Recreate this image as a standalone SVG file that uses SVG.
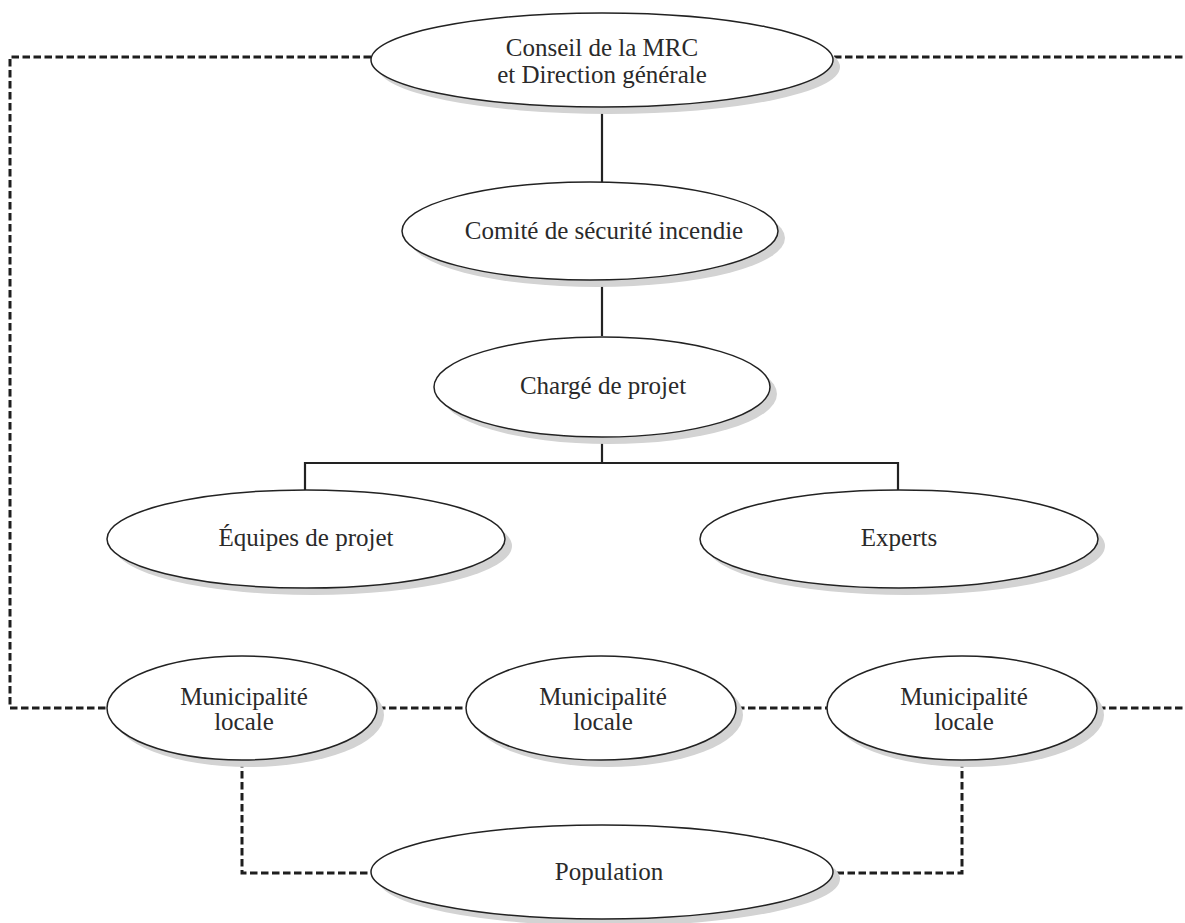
<svg xmlns="http://www.w3.org/2000/svg" width="1185" height="923" viewBox="0 0 1185 923">
<style>
.sh{fill:#d3d3d3;stroke:none}
.el{fill:#fff;stroke:#222;stroke-width:1.5}
.t{font-family:"Liberation Serif","Times New Roman",serif;font-size:25px;fill:#2a2a2a;text-anchor:middle}
.solid{fill:none;stroke:#222;stroke-width:2.2}
.dash{fill:none;stroke:#1e1e1e;stroke-width:3;stroke-dasharray:7.5 3.5}
</style>
<rect width="1185" height="923" fill="#fff"/>
<g id="connectors">
<path class="solid" d="M602 108V182M602 280V336M602 436V463M305 463H898M305 462V491M898 462V491"/>
<path class="dash" d="M371 57H10V708H107"/>
<path class="dash" d="M834 57H1185"/>
<path class="dash" d="M378 708H466M737 708H827M1098 708H1185"/>
<path class="dash" d="M242 760V873H371"/>
<path class="dash" d="M962 760V873H834"/>
</g>
<g id="n_conseil">
<ellipse class="sh" cx="609" cy="67" rx="231" ry="47"/>
<ellipse class="el" cx="602" cy="60" rx="231" ry="47"/>
<text class="t" x="602" y="56">Conseil de la MRC</text>
<text class="t" x="602" y="83">et Direction générale</text>
</g>
<g id="n_comite">
<ellipse class="sh" cx="597" cy="238" rx="188" ry="49"/>
<ellipse class="el" cx="590" cy="231" rx="188" ry="49"/>
<text class="t" x="604" y="239">Comité de sécurité incendie</text>
</g>
<g id="n_charge">
<ellipse class="sh" cx="609" cy="394" rx="168" ry="50"/>
<ellipse class="el" cx="602" cy="387" rx="168" ry="50"/>
<text class="t" x="603" y="394">Chargé de projet</text>
</g>
<g id="n_equipes">
<ellipse class="sh" cx="313" cy="546" rx="199" ry="49"/>
<ellipse class="el" cx="306" cy="539" rx="199" ry="49"/>
<text class="t" x="306" y="546">Équipes de projet</text>
</g>
<g id="n_experts">
<ellipse class="sh" cx="906" cy="546" rx="199" ry="49"/>
<ellipse class="el" cx="899" cy="539" rx="199" ry="49"/>
<text class="t" x="899" y="546">Experts</text>
</g>
<g id="n_muni1">
<ellipse class="sh" cx="249" cy="715" rx="135" ry="52"/>
<ellipse class="el" cx="242" cy="708" rx="135" ry="52"/>
<text class="t" x="244" y="705">Municipalité</text>
<text class="t" x="244" y="730">locale</text>
</g>
<g id="n_muni2">
<ellipse class="sh" cx="608" cy="715" rx="135" ry="52"/>
<ellipse class="el" cx="601" cy="708" rx="135" ry="52"/>
<text class="t" x="603" y="705">Municipalité</text>
<text class="t" x="603" y="730">locale</text>
</g>
<g id="n_muni3">
<ellipse class="sh" cx="969" cy="715" rx="135" ry="52"/>
<ellipse class="el" cx="962" cy="708" rx="135" ry="52"/>
<text class="t" x="964" y="705">Municipalité</text>
<text class="t" x="964" y="730">locale</text>
</g>
<g id="n_population">
<ellipse class="sh" cx="609" cy="879" rx="231" ry="47"/>
<ellipse class="el" cx="602" cy="872" rx="231" ry="47"/>
<text class="t" x="609" y="880">Population</text>
</g>
</svg>
